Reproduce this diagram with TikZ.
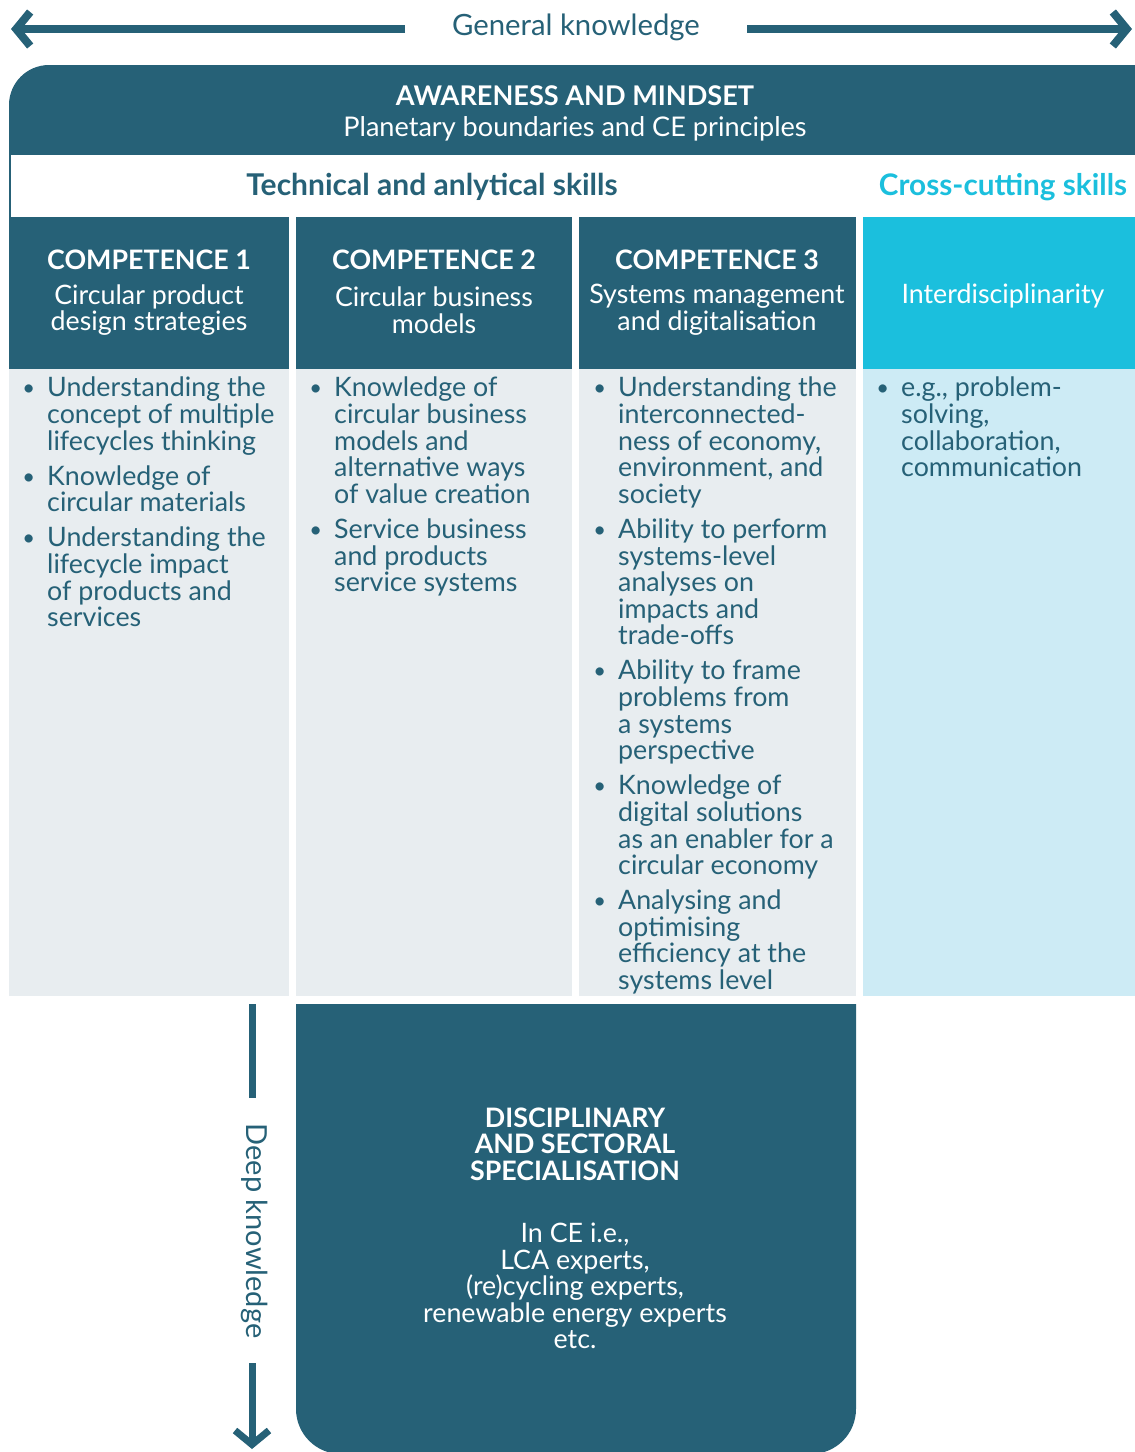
\documentclass[tikz,border=0pt]{standalone}
\usepackage{fontspec}
\setmainfont{Lato}
\usetikzlibrary{arrows.meta,positioning}

\definecolor{ceteal}{RGB}{38,97,119}
\definecolor{cecyan}{RGB}{27,191,221}
\definecolor{cegrey}{RGB}{232,237,240}
\definecolor{cepale}{RGB}{205,235,245}

\newcommand{\bodysize}{\fontsize{26.8}{26.6}\selectfont}
\newcommand{\blt}{\llap{\raisebox{1pt}{\fontsize{22}{22}\selectfont\textbullet}\hspace{12pt}}}

\begin{document}
\begin{tikzpicture}[x=1pt,y=-1pt,
  bar/.style={line width=8pt,ceteal},
  tipped/.style={-{Straight Barb[length=14pt,width=34pt]}},
  whitetxt/.style={text=white,align=center,inner sep=0pt,font=\bodysize},
  listtxt/.style={text=ceteal,align=left,inner sep=0pt,anchor=north west,font=\bodysize}]
\useasboundingbox (0,0) rectangle (1135,1452);

% General knowledge arrow
\node[text=ceteal,font=\fontsize{29.3}{30}\selectfont] (gk) at (576,27) {General knowledge};
\coordinate (gkl) at (405,29);
\coordinate (gkr) at (747,29);
\coordinate (tipl) at (11,29);
\coordinate (tipr) at (1132,29);
\draw[bar,tipped] (gkl) -- (tipl);
\draw[bar,tipped] (gkr) -- (tipr);

% Awareness band
\fill[ceteal,rounded corners=40pt] (9,65) rectangle (1175,200);
\fill[white] (11,155) rectangle (1175,217);
\draw[ceteal,line width=2pt] (10,155) -- (10,217);
\node[whitetxt,font=\fontsize{27.1}{28}\selectfont\bfseries] (aware) at (575,96) {AWARENESS AND MINDSET};
\node[whitetxt,font=\fontsize{27.1}{28}\selectfont] (planet) at (575,129) {Planetary boundaries and CE principles};

\node[text=ceteal,font=\fontsize{30}{31}\selectfont\bfseries] (tech) at (432,187) {Technical and anlytical skills};
\node[text=cecyan,font=\fontsize{29.7}{31}\selectfont\bfseries] (cross) at (1003,187) {Cross-cutting skills};

% Columns
\foreach \xa/\xb in {9/289,296/572,579/856} {
  \fill[ceteal] (\xa,217) rectangle (\xb,369);
  \fill[cegrey] (\xa,369) rectangle (\xb,996);
}
\fill[cecyan] (863,217) rectangle (1135,369);
\fill[cepale] (863,369) rectangle (1135,996);

% Column headers
\foreach \n/\x in {1/149,2/434,3/717} {
  \node[whitetxt,font=\bodysize\bfseries] (comp\n) at (\x,260) {COMPETENCE \n};
}
\node[whitetxt] (sub1) at (149,310) {Circular product\\design strategies};
\node[whitetxt] (sub2) at (434,310) {Circular business\\models};
\node[whitetxt] (sub3) at (717,310) {Systems management\\and digitalisation};
\node[whitetxt] (inter) at (1003,296) {Interdisciplinarity};

% Bullet lists
\node[listtxt] (list1) at (47,377) {\blt Understanding the\\concept of multiple\\lifecycles thinking\\[8.5pt]
  \blt Knowledge of\\circular materials\\[8.5pt]
  \blt Understanding the\\lifecycle impact\\of products and\\services};
\node[listtxt] (list2) at (334,377) {\blt Knowledge of\\circular business\\models and\\alternative ways\\of value creation\\[8.5pt]
  \blt Service business\\and products\\service systems};
\node[listtxt] (list3) at (618,377) {\blt Understanding the\\interconnected-\\ness of economy,\\environment, and\\society\\[8.5pt]
  \blt Ability to perform\\systems-level\\analyses on\\impacts and\\trade-offs\\[8.5pt]
  \blt Ability to frame\\problems from\\a systems\\perspective\\[8.5pt]
  \blt Knowledge of\\digital solutions\\as an enabler for a\\circular economy\\[8.5pt]
  \blt Analysing and\\optimising\\efficiency at the\\systems level};
\node[listtxt] (list4) at (901,377) {\blt e.g., problem-\\solving,\\collaboration,\\communication};

% Specialisation box
\begin{scope}
  \clip (296,1004) rectangle (856,1460);
  \fill[ceteal,rounded corners=45pt] (296,950) rectangle (856,1454);
\end{scope}
\node[whitetxt,font=\bodysize\bfseries] (spec) at (575,1144) {DISCIPLINARY\\AND SECTORAL\\SPECIALISATION};
\node[whitetxt] (experts) at (575,1286) {In CE i.e.,\\LCA experts,\\(re)cycling experts,\\renewable energy experts\\etc.};

% Deep knowledge arrow
\node[text=ceteal,rotate=-90,font=\fontsize{29}{30}\selectfont] (deep) at (255,1231) {Deep knowledge};
\coordinate (dtop) at (252,1004);
\coordinate (dup) at (252,1098);
\coordinate (ddown) at (252,1363);
\coordinate (dtip) at (252,1449);
\draw[bar,line width=7pt] (dtop) -- (dup);
\draw[bar,line width=7pt,tipped] (ddown) -- (dtip);
\end{tikzpicture}
\end{document}
